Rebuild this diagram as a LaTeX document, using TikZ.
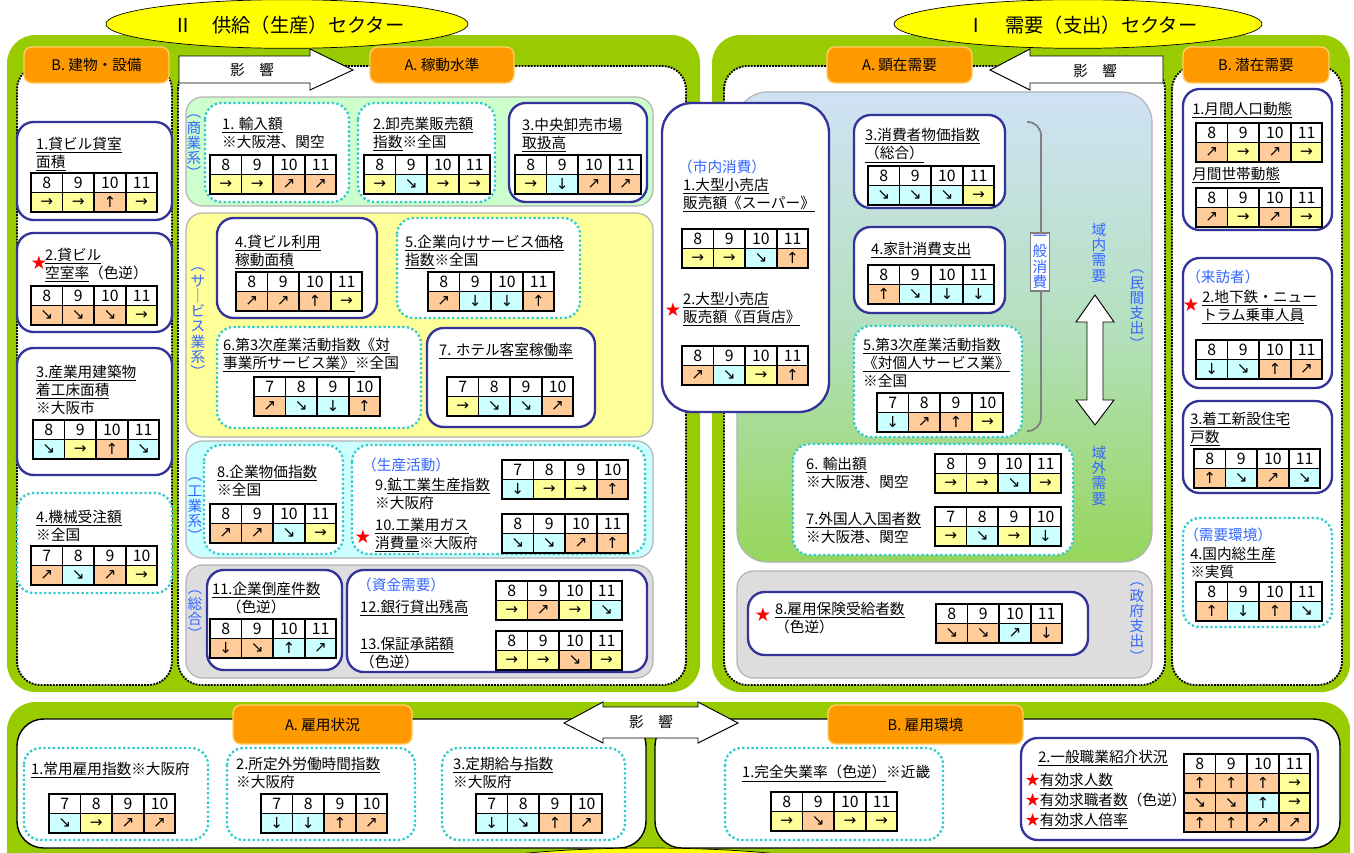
\documentclass[tikz,border=0pt]{standalone}
\usepackage{fontspec}
\setmainfont{Noto Sans CJK JP}
\newfontfamily\arrowfamily{DejaVu Sans}
\usepackage{xcolor}
\usepackage{tikz}
\usetikzlibrary{calc,positioning}

\definecolor{framegreen}{HTML}{99CC00}
\definecolor{hdrorange}{HTML}{FF9900}
\definecolor{hdrrim}{HTML}{FFCC66}
\definecolor{navy}{HTML}{333399}
\definecolor{dotcyan}{HTML}{33CCCC}
\definecolor{bgtrade}{HTML}{CCFFCC}
\definecolor{bgservice}{HTML}{FFFF99}
\definecolor{bgindustry}{HTML}{CCFFFF}
\definecolor{bgtotal}{HTML}{DDDDDD}
\definecolor{dmtop}{HTML}{CFE2F5}
\definecolor{dmmid}{HTML}{B4E0BE}
\definecolor{dmbot}{HTML}{96D65C}
\definecolor{good}{HTML}{FFCC99}
\definecolor{even}{HTML}{FFFF99}
\definecolor{poor}{HTML}{CCFFFF}
\definecolor{bluetxt}{HTML}{3366FF}
\definecolor{ovalyellow}{HTML}{FFFF00}

\newcommand{\bodyfont}{\fontsize{12.5}{15.5}\selectfont}
\newcommand{\titlefont}{\fontsize{16.5}{19}\selectfont}
\newcommand{\vfont}{\fontsize{12.5}{13}\selectfont}
\newcommand{\cellfont}{\fontsize{13.5}{14}\selectfont}
\newcommand{\arrowfont}{\arrowfamily\fontsize{13}{14}\selectfont}

% trend table: name, top left corner, months, colour/arrow of each month
\newcommand{\trend}[4]{%
  \coordinate (#1) at (#2);
  \foreach \m [count=\i] in {#3}
    \node[mcell] (#1-m\i) at ($(#1)+({(\i-1)*31.6},0)$) {\m};
  \trendrow{#1}{1}{#4}}
\newcommand{\trendrow}[3]{%
  \foreach \c/\a [count=\i] in {#3}
    \node[acell, fill=\c] (#1-r#2c\i) at ($(#1)+({(\i-1)*31.6},{#2*19.6})$) {\a};}

\begin{document}
\begin{tikzpicture}[x=0.3mm, y=-0.3mm,
    sector/.style={fill=framegreen, rounded corners=8.5mm},
    panel/.style={draw=black, fill=white, line width=1.6pt, densely dotted, rounded corners=7mm},
    empanel/.style={draw=black, fill=white, line width=1.2pt, rounded corners=8mm},
    titleoval/.style={draw=black, fill=ovalyellow, line width=0.6pt},
    sectbg/.style={draw=gray!60, line width=1pt, rounded corners=5mm},
    navybox/.style={draw=navy, fill=white, line width=2pt, rounded corners=5mm},
    dotbox/.style={draw=dotcyan, fill=white, line width=2pt, dotted, rounded corners=5mm},
    hdr/.style={draw=hdrrim, fill=hdrorange, line width=1.2pt, rounded corners=2.4mm, minimum height=10.8mm, inner sep=0pt, font=\bodyfont},
    bigarrow/.style={draw=black, fill=white, line width=0.8pt},
    lbl/.style={anchor=north west, inner sep=0pt, align=left, font=\bodyfont},
    bluelbl/.style={lbl, text=bluetxt},
    vlbl/.style={anchor=north, inner sep=0pt, align=center, text=bluetxt, font=\vfont},
    redstar/.style={text=red, inner sep=0pt, font=\fontsize{13}{13}\selectfont},
    mcell/.style={draw, line width=1.6pt, fill=white, anchor=north west, minimum width=9.48mm, minimum height=5.88mm, inner sep=0pt, font=\cellfont},
    acell/.style={mcell, font=\arrowfont}]

    \useasboundingbox (0,0) rectangle (1354,852);

    % sectors
    \fill[sector] (7,35) rectangle (700,692);
    \fill[sector] (712,35) rectangle (1350,692);
    \fill[sector] (7,702) rectangle (1350,900);

    \draw[titleoval] (287,24) ellipse [x radius=54.3mm, y radius=7.3mm];
    \draw[titleoval] (1078,24) ellipse [x radius=55.2mm, y radius=7.3mm];
    \node[font=\titlefont] (ttlS) at (289,25) {Ⅱ　供給（生産）セクター};
    \node[font=\titlefont] (ttlD) at (1082,25) {Ⅰ　需要（支出）セクター};

    \draw[panel] (17,66) rectangle (172,685);
    \draw[panel] (178,66) rectangle (686,685);
    \draw[panel] (724,66) rectangle (1165,685);
    \draw[panel] (1172,66) rectangle (1342,685);
    \draw[empanel] (17,719) rectangle (646,848);
    \draw[empanel] (655,719) rectangle (1340,848);
    \draw[titleoval] (648,873) ellipse [x radius=60mm, y radius=7.5mm];

    % groups
    \draw[sectbg, fill=bgtrade] (186,97) rectangle (653,206);
    \draw[sectbg, fill=bgservice] (186,213) rectangle (653,437);
    \draw[sectbg, fill=bgindustry] (186,441) rectangle (653,558);
    \draw[sectbg, fill=bgtotal] (186,565) rectangle (653,678);
    \draw[sectbg, rounded corners=9mm, top color=dmtop, bottom color=dmbot, middle color=dmmid] (737,92) rectangle (1152,562);
    \draw[sectbg, fill=bgtotal] (737,571) rectangle (1152,678);

    % indicator boxes
    \draw[navybox] (17,122) rectangle (172,220);
    \draw[navybox] (17,233) rectangle (172,332);
    \draw[navybox] (17,348) rectangle (172,475);
    \draw[dotbox] (17,493) rectangle (172,593);
    \draw[dotbox] (205,103) rectangle (349,202);
    \draw[dotbox] (358,103) rectangle (495,202);
    \draw[navybox] (509,103) rectangle (647,202);
    \draw[navybox] (217,218) rectangle (377,318);
    \draw[dotbox] (397,218) rectangle (580,318);
    \draw[dotbox] (217,327) rectangle (421,428);
    \draw[navybox] (427,328) rectangle (595,427);
    \draw[dotbox] (204,445) rectangle (343,554);
    \draw[dotbox] (352,445) rectangle (645,554);
    \draw[navybox] (207,570) rectangle (342,670);
    \draw[navybox] (347,570) rectangle (647,672);
    \draw[navybox, rounded corners=9mm] (662,103) rectangle (829,412);
    \draw[navybox] (854,115) rectangle (1005,208);
    \draw[navybox] (854,227) rectangle (1005,313);
    \draw[dotbox] (854,326) rectangle (1022,437);
    \draw[dotbox] (793,444) rectangle (1073,555);
    \draw[navybox] (748,592) rectangle (1088,655);
    \draw[navybox] (1183,89) rectangle (1332,230);
    \draw[navybox] (1183,258) rectangle (1332,388);
    \draw[navybox] (1183,401) rectangle (1332,493);
    \draw[dotbox] (1183,518) rectangle (1332,627);
    \draw[dotbox] (24,748) rectangle (208,840);
    \draw[dotbox] (227,748) rectangle (415,840);
    \draw[dotbox] (442,748) rectangle (625,840);
    \draw[dotbox] (725,748) rectangle (943,840);
    \draw[navybox] (1021,738) rectangle (1318,840);

    % headers
    \node[hdr, minimum width=43.5mm] (hdrBld) at (96.5,65) {B. 建物・設備};
    \node[hdr, minimum width=43.2mm] (hdrOp) at (442,65) {A. 稼動水準};
    \node[hdr, minimum width=43.5mm] (hdrAct) at (899.5,65) {A. 顕在需要};
    \node[hdr, minimum width=43.8mm] (hdrPot) at (1256,65) {B. 潜在需要};
    \node[hdr, minimum width=53.7mm, minimum height=11.7mm] (hdrEmp) at (322.5,724.5) {A. 雇用状況};
    \node[hdr, minimum width=58.5mm, minimum height=11.7mm] (hdrEnv) at (925.5,724.5) {B. 雇用環境};

    % influence arrows
    \draw[bigarrow] (179,56) -- (310,56) -- (310,49) -- (353,70) -- (310,90) -- (310,83) -- (179,83) -- cycle;
    \node[font=\bodyfont] (infS) at (252,70) {影　響};
    \draw[bigarrow] (1163,56) -- (1030,56) -- (1030,49) -- (990,70) -- (1030,90) -- (1030,83) -- (1163,83) -- cycle;
    \node[font=\bodyfont] (infD) at (1095,71) {影　響};
    \draw[bigarrow] (564,723) -- (603,702) -- (603,707) -- (698,707) -- (698,702) -- (738,723) -- (698,743) -- (698,738) -- (603,738) -- (603,743) -- cycle;
    \node[font=\bodyfont] (infE) at (651,722) {影　響};
    \draw[bigarrow] (1095,295) -- (1114,322) -- (1103,322) -- (1103,400) -- (1114,400) -- (1095,425) -- (1076,400) -- (1087,400) -- (1087,322) -- (1076,322) -- cycle;

    % general consumption bracket
    \draw[draw=gray, line width=1.5pt, rounded corners=4mm] (1027,122) -- (1041,122) -- (1041,431) -- (1027,431);
    \node[draw=gray, fill=white, line width=1pt, inner sep=2pt, align=center, text=bluetxt, font=\vfont] (vGen) at (1040,262) {一\\般\\消\\費};

    % vertical labels
    \node[vlbl] (vTrade) at (194,115) {︵\\商\\業\\系\\︶};
    \node[vlbl] (vServ) at (198,268) {︵\\サ\\｜\\ビ\\ス\\業\\系\\︶};
    \node[vlbl] (vInd) at (195,478) {︵\\工\\業\\系\\︶};
    \node[vlbl] (vTot) at (195,591) {︵\\総\\合\\︶};
    \node[vlbl] (vIn) at (1099,223) {域\\内\\需\\要};
    \node[vlbl] (vOut) at (1099,446) {域\\外\\需\\要};
    \node[vlbl] (vPriv) at (1137,270) {︵\\民\\間\\支\\出\\︶};
    \node[vlbl] (vGov) at (1137,583) {︵\\政\\府\\支\\出\\︶};

    % building and equipment
    \node[lbl] (tB1) at (36,137) {\underline{1.貸ビル貸室}\\\underline{面積}};
    \node[redstar] (sB2) at (39,263) {★};
    \node[lbl] (tB2) at (45,248) {\underline{2.貸ビル}\\\underline{空室率}（色逆）};
    \node[lbl] (tB3) at (36,365) {\underline{3.産業用建築物}\\\underline{着工床面積}\\※大阪市};
    \node[lbl] (tB4) at (36,510) {\underline{4.機械受注額}\\※全国};
    \trend{gB1}{30,172}{8,9,10,11}{even/→,even/→,good/↑,even/→}
    \trend{gB2}{30,285}{8,9,10,11}{good/↘,good/↘,good/↘,even/→}
    \trend{gB3}{32,419}{8,9,10,11}{poor/↘,even/→,good/↑,poor/↘}
    \trend{gB4}{30,545}{7,8,9,10}{good/↗,poor/↘,good/↗,even/→}

    % operating level
    \node[lbl] (tA1) at (222,117) {\underline{1. 輸入額}\\※大阪港、関空};
    \node[lbl] (tA2) at (373,117) {\underline{2.卸売業販売額}\\\underline{指数}※全国};
    \node[lbl] (tA3) at (522,118) {\underline{3.中央卸売市場}\\\underline{取扱高}};
    \node[lbl] (tA4) at (235,235) {\underline{4.貸ビル利用}\\\underline{稼動面積}};
    \node[lbl] (tA5) at (405,235) {\underline{5.企業向けサービス価格}\\\underline{指数}※全国};
    \node[lbl] (tA6) at (223,338) {\underline{6.第3次産業活動指数《対}\\\underline{事業所サービス業》}※全国};
    \node[lbl] (tA7) at (439,343) {\underline{7. ホテル客室稼働率}};
    \node[lbl] (tA8) at (217,465) {\underline{8.企業物価指数}\\※全国};
    \node[bluelbl] (tA9h) at (362,458) {（生産活動）};
    \node[lbl] (tA9) at (375,478) {9.\underline{鉱工業生産指数}\\※大阪府};
    \node[redstar] (sA10) at (363,537) {★};
    \node[lbl] (tA10) at (375,518) {\underline{10.工業用ガス}\\\underline{消費量}※大阪府};
    \node[lbl] (tA11) at (212,582) {\underline{11.企業倒産件数}\\　（色逆）};
    \node[bluelbl] (tA12h) at (357,578) {（資金需要）};
    \node[lbl] (tA12) at (360,600) {\underline{12.銀行貸出残高}};
    \node[lbl] (tA13) at (360,637) {\underline{13.保証承諾額}\\（色逆）};
    \trend{gA1}{209,154}{8,9,10,11}{even/→,even/→,good/↗,good/↗}
    \trend{gA2}{363,154}{8,9,10,11}{even/→,poor/↘,even/→,even/→}
    \trend{gA3}{514,154}{8,9,10,11}{even/→,poor/↓,good/↗,good/↗}
    \trend{gA4}{235,271}{8,9,10,11}{good/↗,good/↗,good/↑,even/→}
    \trend{gA5}{427,271}{8,9,10,11}{good/↗,poor/↓,poor/↓,good/↑}
    \trend{gA6}{253,376}{7,8,9,10}{good/↗,poor/↘,poor/↓,good/↑}
    \trend{gA7}{446,376}{7,8,9,10}{even/→,poor/↘,poor/↘,good/↗}
    \trend{gA8}{209,503}{8,9,10,11}{good/↗,good/↗,poor/↘,even/→}
    \trend{gA9}{501,459}{7,8,9,10}{poor/↓,even/→,even/→,good/↑}
    \trend{gA10}{501,513}{8,9,10,11}{poor/↘,poor/↘,good/↗,good/↑}
    \trend{gA11}{209,618}{8,9,10,11}{good/↓,good/↘,poor/↑,poor/↗}
    \trend{gA12}{495,580}{8,9,10,11}{even/→,good/↗,even/→,poor/↘}
    \trend{gA13}{495,630}{8,9,10,11}{even/→,even/→,good/↘,even/→}

    % actual demand
    \node[bluelbl] (tD0) at (678,160) {（市内消費）};
    \node[lbl] (tD1) at (683,178) {\underline{1.大型小売店}\\\underline{販売額《スーパー》}};
    \node[redstar] (sD2) at (673,310) {★};
    \node[lbl] (tD2) at (683,292) {\underline{2.大型小売店}\\\underline{販売額《百貨店》}};
    \node[lbl] (tD3) at (865,128) {\underline{3.消費者物価指数}\\\underline{（総合）}};
    \node[lbl] (tD4) at (871,242) {\underline{4.家計消費支出}};
    \node[lbl] (tD5) at (863,338) {\underline{5.第3次産業活動指数}\\\underline{《対個人サービス業》}\\※全国};
    \node[lbl] (tD6) at (806,457) {\underline{6. 輸出額}\\※大阪港、関空};
    \node[lbl] (tD7) at (806,512) {\underline{7.外国人入国者数}\\※大阪港、関空};
    \node[redstar] (sD8) at (763,615) {★};
    \node[lbl] (tD8) at (775,602) {\underline{8.雇用保険受給者数}\\（色逆）};
    \trend{gD1}{681,228}{8,9,10,11}{even/→,even/→,poor/↘,good/↑}
    \trend{gD2}{681,345}{8,9,10,11}{good/↗,poor/↘,even/→,good/↑}
    \trend{gD3}{867,165}{8,9,10,11}{poor/↘,poor/↘,poor/↘,even/→}
    \trend{gD4}{867,264}{8,9,10,11}{good/↑,poor/↘,poor/↓,poor/↓}
    \trend{gD5}{876,392}{7,8,9,10}{poor/↓,good/↗,good/↑,even/→}
    \trend{gD6}{934,453}{8,9,10,11}{even/→,even/→,poor/↘,even/→}
    \trend{gD7}{934,506}{7,8,9,10}{even/→,poor/↘,even/→,poor/↓}
    \trend{gD8}{935,603}{8,9,10,11}{good/↘,good/↘,poor/↗,good/↓}

    % potential demand
    \node[lbl] (tP1) at (1192,102) {\underline{1.月間人口動態}};
    \node[lbl] (tP1b) at (1192,167) {\underline{月間世帯動態}};
    \node[bluelbl] (tP2h) at (1186,270) {（来訪者）};
    \node[redstar] (sP2) at (1191,305) {★};
    \node[lbl] (tP2) at (1202,290) {\underline{2.地下鉄・ニュー}\\\underline{トラム乗車人員}};
    \node[lbl] (tP3) at (1190,412) {\underline{3.着工新設住宅}\\\underline{戸数}};
    \node[bluelbl] (tP4h) at (1184,528) {（需要環境）};
    \node[lbl] (tP4) at (1190,547) {\underline{4.国内総生産}\\※実質};
    \trend{gP1}{1195,122}{8,9,10,11}{good/↗,even/→,good/↗,even/→}
    \trend{gP1b}{1195,187}{8,9,10,11}{good/↗,even/→,good/↗,even/→}
    \trend{gP2}{1195,339}{8,9,10,11}{poor/↓,poor/↘,good/↑,good/↗}
    \trend{gP3}{1193,448}{8,9,10,11}{good/↑,poor/↘,good/↗,poor/↘}
    \trend{gP4}{1195,581}{8,9,10,11}{good/↑,poor/↓,good/↑,poor/↘}

    % employment
    \node[lbl] (tE1) at (31,762) {\underline{1.常用雇用指数}※大阪府};
    \node[lbl] (tE2) at (236,757) {2.\underline{所定外労働時間指数}\\※大阪府};
    \node[lbl] (tE3) at (453,757) {\underline{3.定期給与指数}\\※大阪府};
    \node[lbl] (tV1) at (742,765) {\underline{1.完全失業率（色逆）}※近畿};
    \node[lbl] (tV2) at (1038,750) {\underline{2.一般職業紹介状況}};
    \node[lbl, font=\fontsize{12.5}{17}\selectfont] (tV2r) at (1025,773)
        {\textcolor{red}{★}\underline{有効求人数}\\\textcolor{red}{★}\underline{有効求職者数}（色逆）\\\textcolor{red}{★}\underline{有効求人倍率}};
    \trend{gE1}{48,793}{7,8,9,10}{poor/↘,even/→,good/↗,good/↗}
    \trend{gE2}{260,793}{7,8,9,10}{poor/↓,poor/↓,good/↑,good/↗}
    \trend{gE3}{475,793}{7,8,9,10}{poor/↓,poor/↘,good/↑,good/↗}
    \trend{gV1}{770,791}{8,9,10,11}{even/→,good/↘,even/→,even/→}
    \trend{gV2}{1183,753}{8,9,10,11}{good/↑,good/↑,good/↑,even/→}
    \trendrow{gV2}{2}{good/↘,good/↘,poor/↑,even/→}
    \trendrow{gV2}{3}{good/↑,good/↑,good/↗,good/↗}

\end{tikzpicture}
\end{document}
